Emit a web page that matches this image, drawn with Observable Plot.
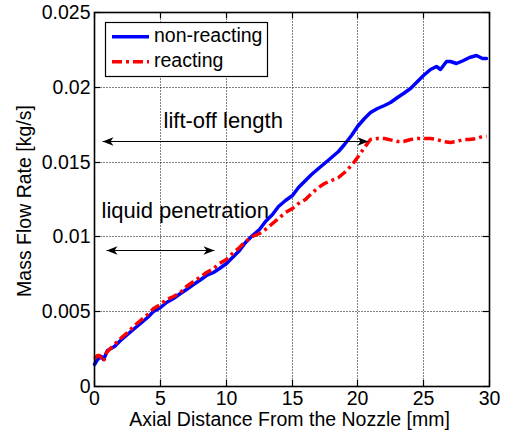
<!DOCTYPE html>
<html><head><meta charset="utf-8">
<script src="https://cdn.jsdelivr.net/npm/d3@7"></script>
<script src="https://cdn.jsdelivr.net/npm/@observablehq/plot@0.6"></script>
<style>
html,body{margin:0;padding:0;background:#fff;}
#chart{width:509px;height:437px;}
</style></head><body><div id="chart"></div>
<script>
// ---- data ----
const distNonReacting = [0,0.25,0.5,0.7,1,1.5,2,2.5,3,3.5,4,4.5,5,5.5,6,6.5,7,7.5,8,8.5,9,9.5,10,10.5,11,11.5,12,12.5,13,13.5,14,14.5,15,15.5,16,16.5,17,17.5,18,18.5,19,19.5,20,20.5,21,21.5,22,22.5,23,23.5,24,24.5,25,25.5,26,26.3,26.7,27,27.5,28,28.5,29,29.5,29.8];
const flowNonReacting = [0.0015,0.0018,0.0020,0.0018,0.0024,0.0027,0.0031,0.0035,0.0039,0.0042,0.0046,0.0050,0.0053,0.0056,0.0059,0.0062,0.0065,0.0068,0.0071,0.0074,0.0076,0.0079,0.0082,0.0086,0.0091,0.0096,0.0101,0.0105,0.0110,0.0115,0.0120,0.0124,0.0128,0.0133,0.0138,0.0142,0.0146,0.0149,0.0153,0.0157,0.0162,0.0168,0.0174,0.0179,0.0183,0.0186,0.0188,0.0190,0.0193,0.0196,0.0199,0.0204,0.0208,0.0212,0.0214,0.0212,0.0217,0.0217,0.0216,0.0218,0.0220,0.0221,0.0219,0.0219];
const distReacting = [0,0.2,0.4,0.65,0.9,1.5,2,2.5,3,3.5,4,4.5,5,5.5,6,6.5,7,7.5,8,8.5,9,9.5,10,10.5,11,11.5,12,12.5,13,13.5,14,14.5,15,15.5,16,16.5,17,17.5,18,18.5,19,19.5,20,20.5,21,21.5,22,23,23.5,24,24.5,25,25.5,26,26.5,27,27.5,28,28.5,29,29.5,29.8];
const flowReacting = [0.0019,0.0021,0.0021,0.0017,0.0023,0.0028,0.0032,0.0036,0.0041,0.0044,0.0048,0.0052,0.0055,0.0058,0.0060,0.0063,0.0067,0.0070,0.0073,0.0076,0.0079,0.0082,0.0085,0.0089,0.0093,0.0097,0.0100,0.0102,0.0105,0.0109,0.0112,0.0116,0.0119,0.0122,0.0125,0.0129,0.0133,0.0136,0.0138,0.0140,0.0143,0.0148,0.0153,0.0160,0.0165,0.0166,0.0166,0.0164,0.0164,0.0165,0.0166,0.0166,0.0166,0.0165,0.0164,0.0163,0.0164,0.0165,0.0165,0.0166,0.0167,0.0167];

const seriesNames = ["non-reacting", "reacting"];
const seriesColors = ["#0000ff", "#ff0000"];

const xTicks = [0,5,10,15,20,25,30];
const yTicks = [0,0.005,0.01,0.015,0.02,0.025];
const yTickLabels = ["0","0.005","0.01","0.015","0.02","0.025"];

const xLabel = "Axial Distance From the Nozzle [mm]";
const yLabel = "Mass Flow Rate [kg/s]";

const annotLabels = ["lift-off length", "liquid penetration"];
const annotArrowFrom = [0.58, 0.91];
const annotArrowTo = [20.8, 9.11];
const annotArrowAt = [0.01638, 0.00909];
const annotTextX = [5.26, 0.51];
const annotTextY = [0.01733, 0.01132];

// ---- build tables ----
const nonReacting = distNonReacting.map((d,i) => ({d, m: flowNonReacting[i]}));
const reacting = distReacting.map((d,i) => ({d, m: flowReacting[i]}));
const annotations = annotLabels.map((label,i) => ({label, x1: annotArrowFrom[i], x2: annotArrowTo[i], y: annotArrowAt[i], tx: annotTextX[i], ty: annotTextY[i]}));

const FONT = "'Liberation Sans', Arial, Helvetica, sans-serif";
const FS = 19.5;
const W = 509, H = 437, ML = 94, MR = 20, MT = 12, MB = 51;
const FW = W - ML - MR, FH = H - MT - MB, TICK = 6;

const arrowHead = {draw(ctx) { ctx.moveTo(0,0); ctx.lineTo(-11,-4.2); ctx.lineTo(-8,0); ctx.lineTo(-11,4.2); ctx.closePath(); }};
const gridStyle = {stroke: "black", strokeOpacity: 1, strokeWidth: 1, strokeDasharray: "1,2", strokeDashoffset: -0.5};

const plot = Plot.plot({
  width: W, height: H,
  marginLeft: ML, marginRight: MR, marginTop: MT, marginBottom: MB,
  style: {fontFamily: FONT, fontSize: FS + "px", background: "white", color: "black"},
  x: {domain: [0, 30], round: true},
  y: {domain: [0, 0.025], round: true},
  marks: [
    Plot.ruleX(xTicks.slice(1, -1), {x: d => d, ...gridStyle}),
    Plot.ruleY(yTicks.slice(1, -1), {y: d => d, ...gridStyle}),
    Plot.line(nonReacting, {x: "d", y: "m", stroke: seriesColors[0], strokeWidth: 3.5}),
    Plot.line(reacting, {x: "d", y: "m", stroke: seriesColors[1], strokeWidth: 3.5, strokeDasharray: "10,4,3,4", strokeLinecap: "butt"}),
    Plot.link(annotations, {x1: "x1", x2: "x2", y1: "y", y2: "y", stroke: "black", strokeWidth: 1.2}),
    Plot.dot(annotations, {x: "x2", y: "y", symbol: arrowHead, fill: "black", stroke: "none", rotate: 0}),
    Plot.dot(annotations, {x: "x1", y: "y", symbol: arrowHead, fill: "black", stroke: "none", rotate: 180}),
    Plot.text(annotations, {x: "tx", y: "ty", text: "label", textAnchor: "start", lineAnchor: "bottom", fontSize: 22, fill: "black"}),
    Plot.axisX(xTicks, {tickSize: 0, tickPadding: 5, label: null, fontSize: FS, tickFormat: d => String(d)}),
    Plot.axisY(yTicks, {tickSize: 0, tickPadding: 4, label: null, fontSize: FS, tickFormat: d => yTickLabels[yTicks.indexOf(d)]}),
    // inward tick marks on all four sides
    Plot.tickX(xTicks, {x: d => d, insetTop: FH - TICK, stroke: "black", strokeWidth: 1.2}),
    Plot.tickX(xTicks, {x: d => d, insetBottom: FH - TICK, stroke: "black", strokeWidth: 1.2}),
    Plot.tickY(yTicks, {y: d => d, insetRight: FW - TICK, stroke: "black", strokeWidth: 1.2}),
    Plot.tickY(yTicks, {y: d => d, insetLeft: FW - TICK, stroke: "black", strokeWidth: 1.2}),
    Plot.frame({stroke: "black", strokeWidth: 1.6}),
    Plot.text([xLabel], {text: d => d, frameAnchor: "bottom", textAnchor: "middle", dx: -2.5, dy: 39, lineAnchor: "bottom", fontSize: FS, fill: "black"}),
    Plot.text([yLabel], {text: d => d, frameAnchor: "left", textAnchor: "middle", dx: -64, dy: 1.5, rotate: -90, lineAnchor: "bottom", fontSize: FS, fill: "black"})
  ]
});

// ---- legend (inside the plot, top-left) ----
const svg = d3.select(plot);
const lg = svg.append("g").attr("font-family", FONT).attr("font-size", FS).attr("text-anchor", "start");
lg.append("rect").attr("x", 105.5).attr("y", 22.5).attr("width", 162).attr("height", 54)
  .attr("fill", "white").attr("stroke", "black").attr("stroke-width", 1.2);
const rowsY = [36.7, 61.7];
seriesNames.forEach((name, i) => {
  lg.append("line").attr("x1", 112).attr("x2", 149).attr("y1", rowsY[i]).attr("y2", rowsY[i])
    .attr("stroke", seriesColors[i]).attr("stroke-width", 3.5)
    .attr("stroke-dasharray", i === 1 ? "10,4,3,4" : null);
  lg.append("text").attr("x", 154).attr("y", rowsY[i] + 5.3).attr("fill", "black")
    .attr("text-anchor", "start").text(name);
});

document.getElementById("chart").appendChild(plot);
</script></body></html>
